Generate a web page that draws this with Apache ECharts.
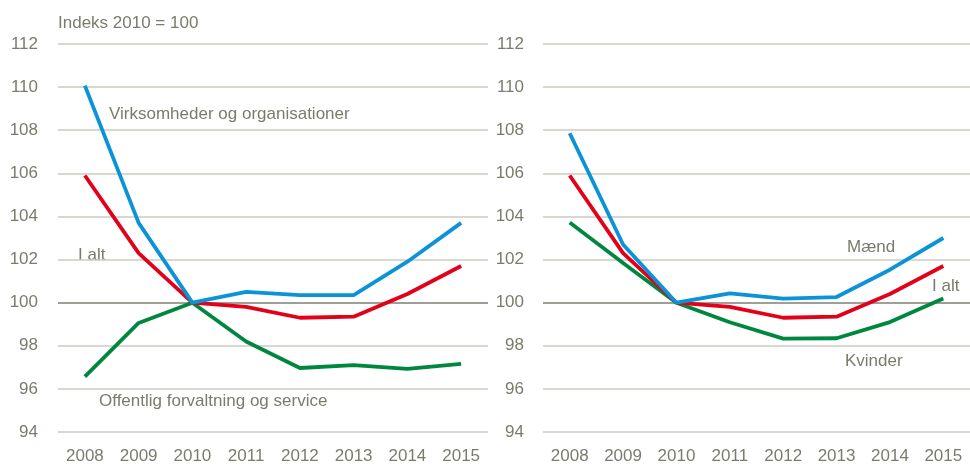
<!DOCTYPE html>
<html>
<head>
<meta charset="utf-8">
<script src="https://cdn.jsdelivr.net/npm/echarts@6/dist/echarts.min.js"></script>
<style>
  html, body { margin: 0; padding: 0; background: #fff; }
  #chart { width: 970px; height: 466px; }
</style>
</head>
<body>
<div id="chart"></div>
<script>
const YEARS = ["2008", "2009", "2010", "2011", "2012", "2013", "2014", "2015"];

// left panel: by sector
const VIRKSOMHEDER = [110.07, 103.7, 100, 100.5, 100.35, 100.35, 101.9, 103.7];
const I_ALT = [105.9, 102.3, 100, 99.8, 99.3, 99.35, 100.4, 101.7];
const OFFENTLIG = [96.57, 99.06, 100, 98.2, 96.97, 97.1, 96.93, 97.16];

// right panel: by gender
const MAEND = [107.86, 102.7, 100, 100.43, 100.19, 100.26, 101.53, 103.0];
const KVINDER = [103.72, 101.84, 100, 99.09, 98.33, 98.35, 99.1, 100.19];

const Y_MIN = 94;
const Y_MAX = 112;
const Y_STEP = 2;

const BLUE = "#0a93d6";
const RED = "#e3001b";
const GREEN = "#00873f";
const TEXT = "#7b7b6d";
const FONT = "'Liberation Sans', Arial, sans-serif";
const FS = 17;

function main() {
  const chart = echarts.init(document.getElementById("chart"));

  // the 100 gridline is darker than the rest
  const gridColors = [];
  for (let v = Y_MIN; v <= Y_MAX; v += Y_STEP) {
    gridColors.push(v === 100 ? "#7f7f72" : "#cbcbc0");
  }

  const xAxis = (idx) => ({
    type: "category",
    gridIndex: idx,
    data: YEARS,
    boundaryGap: true,
    axisLine: { show: false },
    axisTick: { show: false },
    axisLabel: { color: TEXT, fontFamily: FONT, fontSize: FS, margin: 16, interval: 0 },
  });

  const yAxis = (idx, margin) => ({
    type: "value",
    gridIndex: idx,
    min: Y_MIN,
    max: Y_MAX,
    interval: Y_STEP,
    axisLine: { show: false },
    axisTick: { show: false },
    axisLabel: { color: TEXT, fontFamily: FONT, fontSize: FS, margin: margin },
    splitLine: { lineStyle: { color: gridColors, width: 1.5 } },
  });

  const line = (idx, data, color) => ({
    type: "line",
    xAxisIndex: idx,
    yAxisIndex: idx,
    data: data,
    symbol: "none",
    lineStyle: { color: color, width: 3.8 },
    itemStyle: { color: color },
    silent: true,
  });

  const txt = (x, y, s) => ({
    type: "text",
    left: x,
    top: y,
    style: { text: s, fill: TEXT, font: FS + "px " + FONT },
  });

  const option = {
    animation: false,
    grid: [
      { left: 58, top: 44, width: 430, height: 388 },
      { left: 543, top: 44, width: 437, height: 388 },
    ],
    xAxis: [xAxis(0), xAxis(1)],
    yAxis: [yAxis(0, 20), yAxis(1, 19)],
    series: [
      line(0, OFFENTLIG, GREEN),
      line(0, I_ALT, RED),
      line(0, VIRKSOMHEDER, BLUE),
      line(1, KVINDER, GREEN),
      line(1, I_ALT, RED),
      line(1, MAEND, BLUE),
    ],
    graphic: [
      txt(58, 15, "Indeks 2010 = 100"),
      txt(109, 106, "Virksomheder og organisationer"),
      txt(78, 247, "I alt"),
      txt(99, 393, "Offentlig forvaltning og service"),
      txt(847, 239, "Mænd"),
      txt(932, 278, "I alt"),
      txt(845, 353, "Kvinder"),
    ],
  };

  chart.setOption(option);
}

document.addEventListener("DOMContentLoaded", function () {
  main();
});
</script>
</body>
</html>
